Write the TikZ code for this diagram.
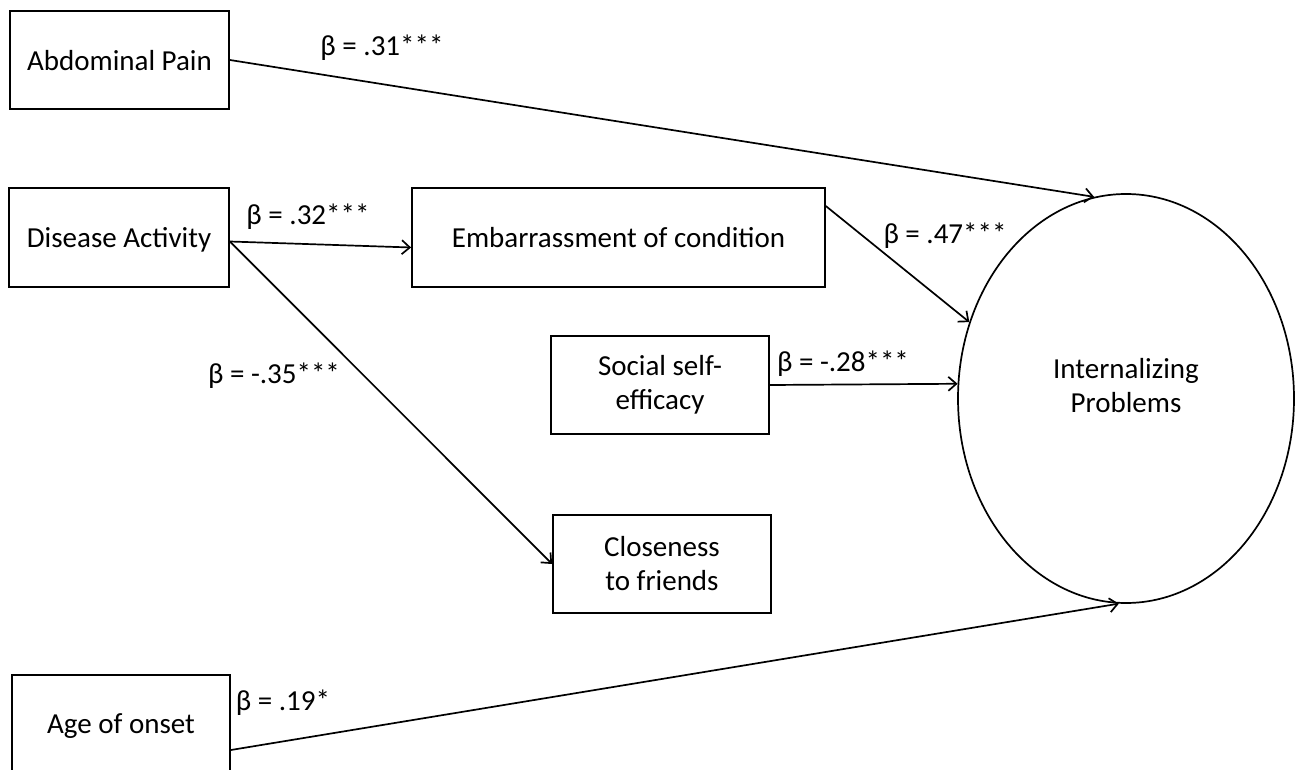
\documentclass[tikz,border=0pt]{standalone}
\usepackage{fontspec}
\setmainfont{Carlito}
\usetikzlibrary{arrows.meta,shapes.geometric}
\begin{document}
\begin{tikzpicture}[x=1pt,y=-1pt,
  box/.style={draw,line width=1.8pt,inner sep=0pt,align=center,font=\fontsize{29}{34}\selectfont},
  lbl/.style={inner sep=0pt,font=\fontsize{29}{34}\selectfont},
  arr/.style={line width=1.7pt,-{Straight Barb[length=8pt,width=14pt,line width=1.7pt]}}]
\useasboundingbox (0,0) rectangle (1295,770);
\node[box,minimum width=219pt,minimum height=98pt,text depth=0pt] (abd) at (119.5,60) {Abdominal Pain};
\node[box,minimum width=220pt,minimum height=99pt,text depth=0pt] (dis) at (119,237.5) {Disease Activity};
\node[box,minimum width=413pt,minimum height=99pt,text depth=0pt] (emb) at (618.5,237.5) {Embarrassment of condition};
\node[box,minimum width=218pt,minimum height=98pt] (soc) at (660,385) {Social self-\\efficacy};
\node[box,minimum width=218pt,minimum height=98pt] (clo) at (662,564) {Closeness\\to friends};
\node[box,minimum width=218pt,minimum height=98pt,text depth=0pt] (age) at (121,724) {Age of onset};
\node[draw,ellipse,line width=1.7pt,minimum width=336pt,minimum height=409pt,inner sep=0pt] (ip) at (1126,398.5) {};
\node[lbl,align=center] (iptxt) at (1126,386) {Internalizing\\Problems};

\draw[arr] (abd.east) -- (ip.99);
\draw[arr] ([yshift=-4pt]dis.east) -- ([yshift=-10pt]emb.west);
\draw[arr] ([yshift=-4pt]dis.east) -- (clo.west);
\draw[arr] ([yshift=-19pt]emb.north east) -- (ip.154);
\draw[arr] (soc.east) -- (ip.175.4);
\draw[arr] ([yshift=-26pt]age.east) -- (ip.268);

\node[lbl] (l31) at (382,48) {β = .31***};
\node[lbl] (l32) at (308,217) {β = .32***};
\node[lbl] (l47) at (945,236) {β = .47***};
\node[lbl] (l35) at (274,376) {β = -.35***};
\node[lbl] (l28) at (843,364) {β = -.28***};
\node[lbl] (l19) at (283,703) {β = .19*};
\end{tikzpicture}
\end{document}
